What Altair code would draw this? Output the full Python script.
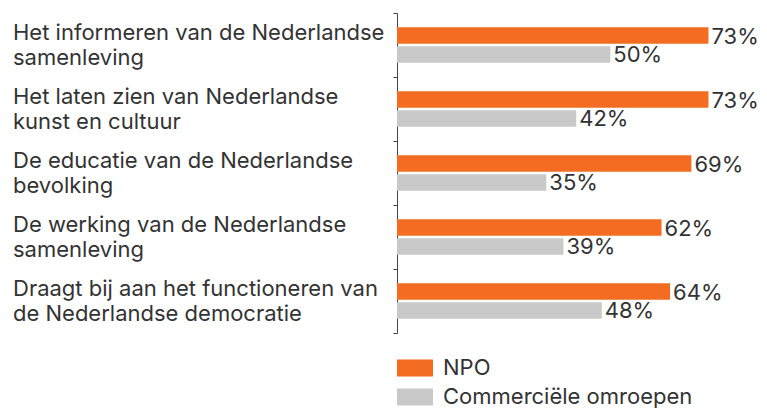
import altair as alt
import pandas as pd

categories = [
    "Het informeren van de Nederlandse\nsamenleving",
    "Het laten zien van Nederlandse\nkunst en cultuur",
    "De educatie van de Nederlandse\nbevolking",
    "De werking van de Nederlandse\nsamenleving",
    "Draagt bij aan het functioneren van\nde Nederlandse democratie",
]
series = ["NPO", "Commerciële omroepen"]
npo = [73, 73, 69, 62, 64]
commercial = [50, 42, 35, 39, 48]
colors = ["#F36C21", "#C9C9C9"]

rows = []
for c, a, b in zip(categories, npo, commercial):
    rows.append({"cat": c, "series": series[0], "value": a, "label": f"{a}%"})
    rows.append({"cat": c, "series": series[1], "value": b, "label": f"{b}%"})
df = pd.DataFrame(rows)
cat_df = pd.DataFrame({"cat": categories})

FONT = "Inter"
TXT = "#333333"
FS = 22

y_enc = alt.Y(
    "cat:N",
    sort=categories,
    scale=alt.Scale(paddingInner=0, paddingOuter=0),
    axis=alt.Axis(
        labels=False, title=None, tickBand="extent", tickSize=4,
        domainColor="#444444", tickColor="#444444", grid=False,
    ),
)
y_off = alt.YOffset(
    "series:N", sort=series,
    scale=alt.Scale(paddingInner=0.12, paddingOuter=0.75),
)
x_enc = alt.X("value:Q", scale=alt.Scale(domain=[0, 75]), axis=None)

bars = alt.Chart(df).mark_bar().encode(
    x=x_enc,
    y=y_enc,
    yOffset=y_off,
    color=alt.Color(
        "series:N",
        sort=series,
        scale=alt.Scale(domain=series, range=colors),
        legend=alt.Legend(
            title=None, orient="none", legendX=0, legendY=337,
            symbolType="M-1,-0.47H1V0.47H-1Z", symbolSize=1296,
            symbolStrokeWidth=0, symbolOpacity=1,
            labelFontSize=FS, labelFont=FONT, labelColor=TXT,
            labelOffset=10, labelLimit=500, rowPadding=0, padding=0,
        ),
    ),
)

values = alt.Chart(df).mark_text(
    align="left", baseline="middle", dx=3, dy=1,
    fontSize=FS, font=FONT, color=TXT,
).encode(
    x=x_enc,
    y=alt.Y("cat:N", sort=categories),
    yOffset=alt.YOffset("series:N", sort=series),
    text="label:N",
)

cat_labels = alt.Chart(cat_df).mark_text(
    align="left", baseline="middle", lineBreak="\n", lineHeight=25, dy=-12,
    fontSize=FS, font=FONT, color=TXT,
).encode(
    x=alt.value(-384),
    y=alt.Y("cat:N", sort=categories),
    text="cat:N",
)

chart = alt.layer(bars, values, cat_labels).properties(
    width=320, height=320, background="white",
    padding={"left": 5, "top": 4, "right": 0, "bottom": 0},
).configure_view(stroke=None)

chart.save("out.html", embed_options={"renderer": "svg", "actions": False})
